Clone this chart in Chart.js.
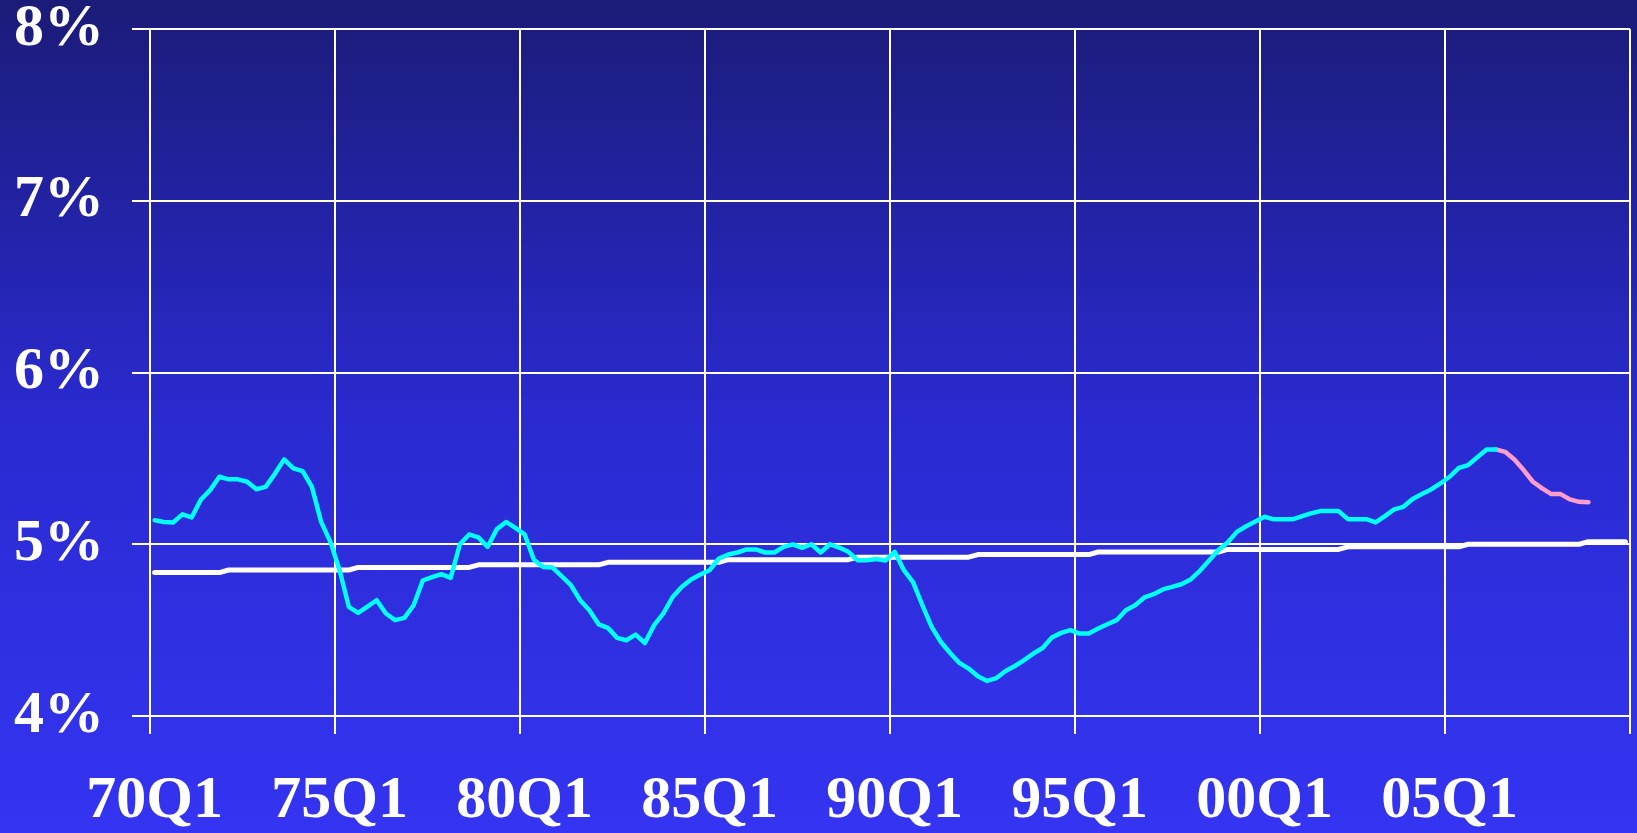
<!DOCTYPE html>
<html>
<head>
<meta charset="utf-8">
<script src="https://cdn.jsdelivr.net/npm/chart.js@4.4.1/dist/chart.umd.min.js"></script>
<style>
  html, body { margin: 0; padding: 0; }
  body {
    width: 1637px;
    height: 833px;
    overflow: hidden;
    background: linear-gradient(to bottom, #1b1b78 0%, #2a2ad0 50%, #3434f2 100%);
  }
  canvas { display: block; }
</style>
</head>
<body>
<canvas id="chart" width="1637" height="833"></canvas>
<script>
// quarters 70Q1 .. 09Q4
const years = ['70','71','72','73','74','75','76','77','78','79',
               '80','81','82','83','84','85','86','87','88','89',
               '90','91','92','93','94','95','96','97','98','99',
               '00','01','02','03','04','05','06','07','08','09'];
const quarters = ['Q1', 'Q2', 'Q3', 'Q4'];
const labels = [];
years.forEach(y => quarters.forEach(q => labels.push(y + q)));

const yTicks = [4, 5, 6, 7, 8];

// actual (cyan), one row per year
const actual = [
    5.14, 5.13, 5.127, 5.174,
    5.156, 5.26, 5.315, 5.393,
    5.378, 5.378, 5.364, 5.32,
    5.334, 5.41, 5.494, 5.442,
    5.426, 5.334, 5.13, 5.014,
    4.849, 4.635, 4.60, 4.637,
    4.674, 4.597, 4.558, 4.571,
    4.645, 4.79, 4.808, 4.826,
    4.804, 5.0, 5.057, 5.04,
    4.985, 5.088, 5.13, 5.095,
    5.058, 4.91, 4.868, 4.865,
    4.814, 4.762, 4.674, 4.616,
    4.534, 4.513, 4.455, 4.441,
    4.474, 4.425, 4.529, 4.597,
    4.693, 4.752, 4.795, 4.824,
    4.849, 4.917, 4.94, 4.952,
    4.97, 4.97, 4.952, 4.952,
    4.985, 4.999, 4.979, 5.0,
    4.952, 5.0, 4.981, 4.956,
    4.907, 4.907, 4.914, 4.905,
    4.956, 4.849, 4.778, 4.645,
    4.519, 4.431, 4.367, 4.309,
    4.276, 4.231, 4.204, 4.221,
    4.262, 4.291, 4.325, 4.364,
    4.396, 4.457, 4.484, 4.5,
    4.48, 4.48, 4.509, 4.534,
    4.558, 4.616, 4.645, 4.69,
    4.709, 4.737, 4.752, 4.767,
    4.795, 4.845, 4.905, 4.966,
    5.01, 5.072, 5.105, 5.133,
    5.16, 5.145, 5.145, 5.145,
    5.162, 5.18, 5.193, 5.193,
    5.193, 5.146, 5.146, 5.146,
    5.127, 5.164, 5.203, 5.218,
    5.263, 5.292, 5.319, 5.354,
    5.393, 5.445, 5.461, 5.506,
    5.552, 5.552, null, null,
    null, null, null, null,
    null, null, null, null,
    null, null, null, null
];

// projection (pink), only the tail
const projection = new Array(144).fill(null).concat([
    null, 5.552, 5.538, 5.494,
    5.432, 5.364, 5.325, 5.292,
    5.292, 5.261, 5.247, 5.245,
    null, null, null, null
]);

// trend (white)
const trend = [
    4.835, 4.835, 4.835, 4.835,
    4.835, 4.835, 4.835, 4.835,
    4.85, 4.85, 4.85, 4.85,
    4.85, 4.85, 4.85, 4.85,
    4.85, 4.85, 4.85, 4.85,
    4.85, 4.85, 4.865, 4.865,
    4.865, 4.865, 4.865, 4.865,
    4.865, 4.865, 4.865, 4.865,
    4.865, 4.865, 4.865, 4.88,
    4.88, 4.88, 4.88, 4.88,
    4.88, 4.88, 4.88, 4.88,
    4.88, 4.88, 4.88, 4.88,
    4.88, 4.895, 4.895, 4.895,
    4.895, 4.895, 4.895, 4.895,
    4.895, 4.895, 4.895, 4.895,
    4.895, 4.895, 4.91, 4.91,
    4.91, 4.91, 4.91, 4.91,
    4.91, 4.91, 4.91, 4.91,
    4.91, 4.91, 4.91, 4.91,
    4.925, 4.925, 4.925, 4.925,
    4.925, 4.925, 4.925, 4.925,
    4.925, 4.925, 4.925, 4.925,
    4.925, 4.94, 4.94, 4.94,
    4.94, 4.94, 4.94, 4.94,
    4.94, 4.94, 4.94, 4.94,
    4.94, 4.94, 4.955, 4.955,
    4.955, 4.955, 4.955, 4.955,
    4.955, 4.955, 4.955, 4.955,
    4.955, 4.955, 4.955, 4.955,
    4.97, 4.97, 4.97, 4.97,
    4.97, 4.97, 4.97, 4.97,
    4.97, 4.97, 4.97, 4.97,
    4.97, 4.985, 4.985, 4.985,
    4.985, 4.985, 4.985, 4.985,
    4.985, 4.985, 4.985, 4.985,
    4.985, 4.985, 5.0, 5.0,
    5.0, 5.0, 5.0, 5.0,
    5.0, 5.0, 5.0, 5.0,
    5.0, 5.0, 5.0, 5.015,
    5.015, 5.015, 5.015, 5.015
];

const labelFont = { family: "'Liberation Serif', 'Times New Roman', serif", size: 60, weight: 'bold', lineHeight: 1.2 };

// only every 5th year gets a grid line
const gridColor = ctx => (ctx.index === undefined || ctx.index % 20 === 0) ? '#ffffff' : 'rgba(0,0,0,0)';

const lineStyle = {
    pointRadius: 0,
    pointHoverRadius: 0,
    tension: 0,
    fill: false,
    borderCapStyle: 'round',
    borderJoinStyle: 'round'
};

new Chart(document.getElementById('chart'), {
    type: 'line',
    data: {
        labels: labels,
        datasets: [
            { ...lineStyle, label: 'actual', data: actual, borderColor: '#00ffff', borderWidth: 4.5 },
            { ...lineStyle, label: 'projection', data: projection, borderColor: '#ff9ecb', borderWidth: 4.5 },
            { ...lineStyle, label: 'trend', data: trend, borderColor: '#ffffff', borderWidth: 5 }
        ]
    },
    options: {
        responsive: false,
        animation: false,
        events: [],
        layout: { padding: { top: 29, right: 7, left: 0, bottom: 0 } },
        plugins: {
            legend: { display: false },
            tooltip: { enabled: false }
        },
        scales: {
            x: {
                type: 'category',
                offset: true,
                border: { display: false },
                grid: {
                    offset: true,
                    color: gridColor,
                    lineWidth: 2,
                    tickLength: 18,
                    tickColor: gridColor
                },
                ticks: {
                    autoSkip: false,
                    maxRotation: 0,
                    minRotation: 0,
                    padding: 31,
                    color: '#ffffff',
                    font: labelFont,
                    callback: (v, i) => i % 20 === 0 ? labels[i] : ''
                },
                afterFit: s => {
                    s.height = 117;
                    s.paddingLeft = 0;
                    s.paddingRight = 0;
                }
            },
            y: {
                min: 4,
                max: 8,
                border: { display: false },
                grid: {
                    color: '#ffffff',
                    lineWidth: 2,
                    tickLength: 18,
                    tickColor: '#ffffff'
                },
                afterBuildTicks: s => { s.ticks = yTicks.map(v => ({ value: v })); },
                ticks: {
                    padding: 28,
                    color: '#ffffff',
                    font: labelFont,
                    callback: v => v + '%'
                },
                afterFit: s => {
                    s.width = 150;
                    s.paddingTop = 0;
                    s.paddingBottom = 0;
                }
            }
        }
    }
});
</script>
</body>
</html>
